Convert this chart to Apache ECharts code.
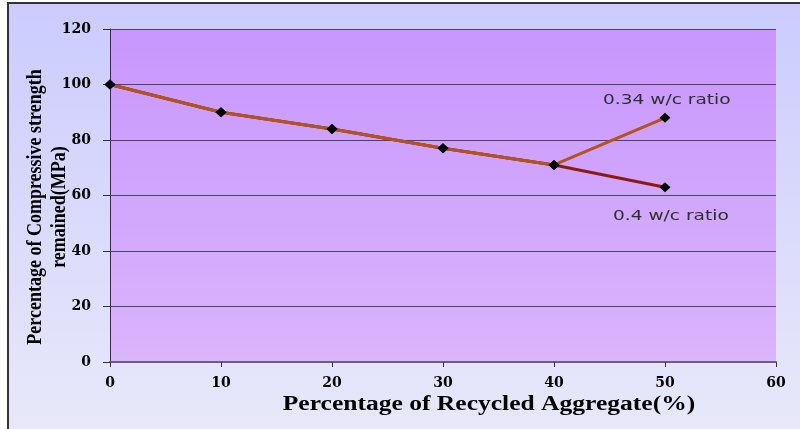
<!DOCTYPE html>
<html>
<head>
<meta charset="utf-8">
<style>
  html, body { margin: 0; padding: 0; background: #ffffff; }
  #chart { width: 800px; height: 429px; }
</style>
<script src="https://cdn.jsdelivr.net/npm/echarts@6/dist/echarts.min.js"></script>
</head>
<body>
<div id="chart"></div>
<script>
// ---- data ----
const recycledPct = [0, 10, 20, 30, 40, 50];
const ratio034 = [100, 90, 84, 77, 71, 88];
const ratio04 = [100, 90, 84, 77, 71, 63];
const seriesNames = ['0.34 w/c ratio', '0.4 w/c ratio'];
const xTitle = 'Percentage of Recycled Aggregate(%)';
const yTitle = 'Percentage of Compressive strength\nremained(MPa)';

const chart = echarts.init(document.getElementById('chart'), null, { renderer: 'canvas' });

function pairs(ys) { return recycledPct.map((x, i) => [x, ys[i]]); }

const lineSeries = (name, ys, color) => ({
  name: name,
  type: 'line',
  data: pairs(ys),
  symbol: 'diamond',
  symbolSize: [11, 10],
  itemStyle: { color: '#000000', borderWidth: 0 },
  lineStyle: { color: color, width: 3 },
  emphasis: { disabled: true },
  animation: false
});

const option = {
  backgroundColor: '#ffffff',
  animation: false,
  grid: {
    left: 110, right: 24, top: 29, bottom: 67,
    show: true,
    borderWidth: 0,
    backgroundColor: {
      type: 'linear', x: 0, y: 0, x2: 0, y2: 1,
      colorStops: [{ offset: 0, color: '#c896fd' }, { offset: 1, color: '#d9b5fc' }]
    }
  },
  graphic: [
    {
      type: 'rect', z: -100, silent: true,
      shape: { x: 8, y: 3, width: 900, height: 500 },
      style: {
        fill: {
          type: 'linear', x: 0, y: 0, x2: 0, y2: 1,
          colorStops: [{ offset: 0, color: '#cbcbfe' }, { offset: 0.85, color: '#e8e8fa' }, { offset: 1, color: '#ebebfa' }]
        },
        stroke: '#333333', lineWidth: 2
      }
    },
    {
      type: 'text', x: 47, y: 207, rotation: Math.PI / 2, scaleY: 1.2, silent: true,
      style: {
        text: yTitle, font: 'bold 18px "Liberation Serif"', fill: '#000000',
        textAlign: 'center', textVerticalAlign: 'middle', lineHeight: 20
      }
    },
    {
      type: 'text', x: 489, y: 405, scaleX: 1.277, silent: true,
      style: {
        text: xTitle, font: 'bold 20px "Liberation Serif"', fill: '#000000',
        textAlign: 'center', textVerticalAlign: 'middle'
      }
    },
    {
      type: 'text', x: 603, y: 100, scaleX: 1.28, silent: true,
      style: {
        text: seriesNames[0], font: '14.5px "DejaVu Sans"', fill: '#2e2e2e',
        textAlign: 'left', textVerticalAlign: 'middle'
      }
    },
    {
      type: 'text', x: 613, y: 216, scaleX: 1.28, silent: true,
      style: {
        text: seriesNames[1], font: '14.5px "DejaVu Sans"', fill: '#2e2e2e',
        textAlign: 'left', textVerticalAlign: 'middle'
      }
    }
  ],
  xAxis: {
    type: 'value', min: 0, max: 60, interval: 10,
    axisLine: { show: true, onZero: false, lineStyle: { color: '#6e5a86', width: 2 } },
    axisTick: { show: true, inside: false, length: 5, lineStyle: { color: '#333333', width: 1 } },
    splitLine: { show: false },
    axisLabel: {
      color: '#000000', fontFamily: 'DejaVu Serif', fontWeight: 'bold', fontSize: 14, margin: 14
    }
  },
  yAxis: {
    type: 'value', min: 0, max: 120, interval: 20,
    axisLine: { show: true, lineStyle: { color: '#333333', width: 1 } },
    axisTick: { show: true, inside: false, length: 7, lineStyle: { color: '#333333', width: 1 } },
    splitLine: { show: true, lineStyle: { color: '#4d4560', width: 1 } },
    axisLabel: {
      color: '#000000', fontFamily: 'DejaVu Serif', fontWeight: 'bold', fontSize: 14, margin: 19
    }
  },
  series: [
    lineSeries(seriesNames[1], ratio04, '#8c1a12'),
    lineSeries(seriesNames[0], ratio034, '#b2541c')
  ]
};

chart.setOption(option);
</script>
</body>
</html>
